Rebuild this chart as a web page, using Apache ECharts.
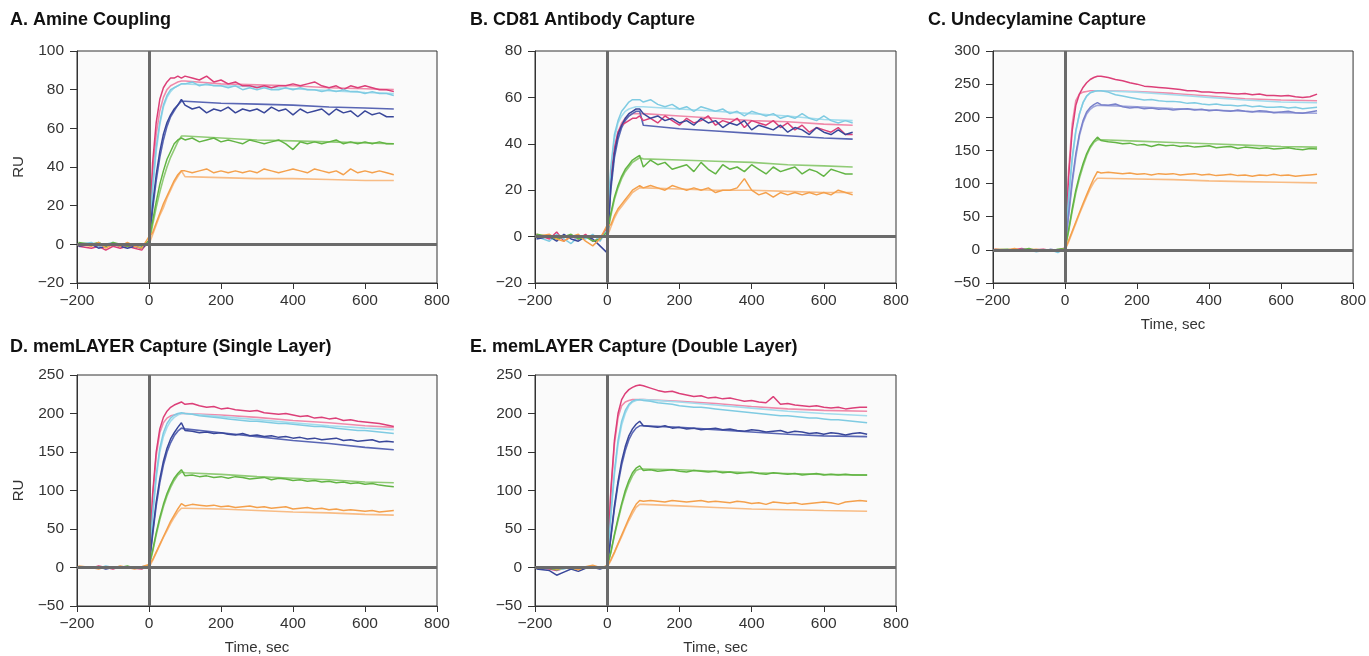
<!DOCTYPE html>
<html><head><meta charset="utf-8">
<script src="https://cdn.jsdelivr.net/npm/echarts@6/dist/echarts.min.js"></script>
<style>html,body{margin:0;padding:0;background:#fff}#c{width:1369px;height:656px}</style>
</head><body><div id="c"></div>
<script>
// ---- time grids (sec) ----
const tA = [-196,-160,-140,-120,-100,-80,-60,-40,-20,0,10,20,30,40,50,60,70,80,90,100,120,140,160,180,200,220,240,260,280,300,320,340,360,380,400,420,440,460,480,500,520,540,560,580,600,620,640,660,680];
const tC = tA.concat([700]);
const tE = tA.concat([700,720]);
const fitA = [0,10,20,30,40,50,60,70,80,90,100,200,300,400,500,600,680];
const fitC = [0,10,20,30,40,50,60,70,80,90,100,200,300,400,500,600,700];
const fitE = [0,10,20,30,40,50,60,70,80,90,100,200,300,400,500,600,720];

// ---- A. Amine Coupling ----
const A_pink = [-1,-2,-1,-3,-1,-2,-1,-2,-3,2, 42,63,75,81,84,86,86,87,86, 87,86,85,87,84,85,83,84,82,82,81,82,81,82,82,83,82,83,84,82,81,82,80,82,81,82,81,80,80,79];
const A_cyan = [0,1,-1,0,1,-1,0,-1,-2,2, 30,50,63,72,77,80,81,82,83, 83,84,82,83,82,82,81,82,80,81,80,81,80,80,81,80,81,80,80,79,80,79,80,79,79,78,79,78,78,77];
const A_blue = [-1,0,-2,-1,0,-1,-2,-1,-2,1, 20,36,48,57,63,67,70,72,75, 72,70,71,68,70,69,71,68,70,69,70,68,71,69,70,67,70,68,69,70,67,70,68,69,66,69,67,68,66,66];
const A_green = [1,0,1,-1,1,0,-1,0,-1,2, 12,22,31,38,44,48,52,54,55, 54,55,53,54,55,53,54,53,52,54,53,52,53,54,52,49,53,52,53,52,53,54,52,53,52,53,52,53,52,52];
const A_orange = [0,-1,1,-2,0,-1,1,-1,-2,4, 6,11,16,21,25,29,33,36,38, 38,37,38,39,37,38,37,38,37,38,37,39,38,37,38,39,38,37,39,38,37,38,36,39,37,38,37,38,37,36];
const A_pink_fit = [0,36,57,69,76,80,82,83,84,84.5,84.5,83,82.5,82,81,80.5,80];
const A_cyan_fit = [0,28,48,62,71,76,79,81,82,83,83,82,81.5,80.5,79.5,78.5,78];
const A_blue_fit = [0,18,33,45,54,61,66,69,72,74,74,73,72.5,72,71,70.5,70];
const A_green_fit = [0,10,19,27,34,40,45,49,53,56,56,55,54,53.5,53,52.5,52];
const A_orange_fit = [0,5,10,15,19,24,28,32,35,38,35,34.5,34,34,33.5,33,33];

// ---- B. CD81 Antibody Capture ----
const B_pink = [1,-1,2,-2,0,-1,1,-2,-1,4, 25,38,45,48,49,50,51,51,52, 50,51,49,52,50,48,51,49,50,52,48,50,49,51,47,50,49,48,50,47,49,46,48,45,47,46,45,47,44,44];
const B_cyan = [0,-2,1,-1,-3,0,-1,1,-2,3, 30,44,50,54,56,58,59,59,59, 58,59,57,56,57,55,56,54,56,55,54,55,53,54,52,54,53,52,53,51,52,51,53,51,50,52,50,49,50,49];
const B_blue = [-1,0,-2,1,-1,-2,0,-1,-4,-7, 22,36,44,48,51,53,54,55,55, 53,51,52,50,51,49,50,48,51,49,50,47,49,48,50,46,48,47,46,48,45,47,46,44,47,45,44,46,44,45];
const B_green = [1,0,-1,0,1,-1,0,-2,-1,2, 10,17,22,26,29,31,33,34,35, 30,33,31,32,29,30,31,28,32,29,27,31,29,30,28,31,29,27,30,28,29,30,27,29,28,26,29,28,27,27];
const B_orange = [0,1,-1,-2,0,1,-2,-4,-1,5, 5,9,12,14,16,18,20,21,22, 21,22,21,20,22,21,20,21,20,21,19,20,20,21,25,20,18,19,17,19,18,19,18,19,18,19,18,20,19,18];
const B_pink_fit = [0,25,38,45,49,51,52,53,53,53,53,52,51,50,49.5,48.5,48];
const B_cyan_fit = [0,28,42,49,52,54,55,55.5,56,56,56,55,54,53,52,50.5,50];
const B_blue_fit = [0,20,34,42,47,50,52,53,54,54,48,46.5,45.5,44.5,43.5,42.5,42];
const B_green_fit = [0,9,16,21,25,28,30,32,33,34,33.5,33,32.5,32,31,30.5,30];
const B_orange_fit = [0,4,8,11,13,15,17,19,20,21,21,20.5,20,20,19.5,19,19];

// ---- C. Undecylamine Capture ----
const C_pink = [1,-1,0,2,-1,0,1,-1,0,3, 110,180,218,235,245,252,257,260,262, 262,260,257,255,252,250,247,246,245,244,243,242,240,240,238,238,237,237,236,235,236,234,235,233,233,232,233,231,230,231,235];
const C_cyan = [0,-2,1,-1,0,-3,-1,0,-4,2, 80,140,180,205,222,232,237,239,240, 240,238,234,232,230,228,226,227,225,224,224,223,221,222,220,219,220,218,218,217,218,216,217,215,215,216,214,215,213,214,215];
const C_blue = [-1,0,-2,1,0,-1,-2,1,-1,1, 55,105,145,175,195,208,215,219,222, 219,218,220,216,214,215,213,214,212,213,211,212,213,211,212,210,211,210,209,211,209,208,210,209,207,208,209,207,206,208,210];
const C_green = [0,1,-1,0,2,-1,0,-2,1,2, 30,62,90,112,130,145,156,164,170, 165,163,162,160,161,158,159,156,159,157,158,156,157,155,156,157,154,155,156,153,155,154,153,154,152,153,154,152,151,153,152];
const C_orange = [1,0,2,-1,0,1,-1,0,-1,1, 14,28,42,56,70,83,96,108,118, 116,117,116,115,116,114,115,113,115,114,115,113,114,115,113,114,112,113,114,112,113,111,113,112,114,112,113,111,112,113,114];
const C_pink_fit = [0,120,190,225,235,238,239,240,240,240,240,239,236,232,228,226,225];
const C_cyan_fit = [0,75,135,178,205,222,232,237,239,240,240,238,234,230,226,223,222];
const C_blue_fit = [0,50,100,140,172,192,205,212,216,218,218,216,213,211,209,207,206];
const C_green_fit = [0,28,58,86,108,126,142,154,162,166,166,164,162,160,158,156,155];
const C_orange_fit = [0,12,26,40,54,67,80,92,102,108,108,107,106,104,103,102,101];

// ---- D. memLAYER Capture (Single Layer) ----
const D_pink = [1,-1,2,0,-2,1,0,-1,-2,3, 95,150,180,195,203,208,211,213,215, 212,213,210,208,209,206,207,205,204,203,204,201,200,199,200,198,196,197,194,195,193,194,191,192,190,189,188,187,185,183];
const D_cyan = [0,1,-1,2,0,-1,1,0,-1,2, 70,120,155,175,187,194,198,200,201, 200,199,197,196,195,194,193,192,191,190,190,189,188,187,187,186,185,184,183,183,182,181,180,179,178,178,177,176,175,174];
const D_blue = [-1,0,1,-2,0,1,-1,0,1,2, 45,85,115,138,155,167,175,182,188, 178,177,175,176,174,175,173,172,174,171,172,170,171,169,170,168,169,167,168,166,167,168,165,166,164,165,166,163,164,163];
const D_green = [0,-1,0,1,-1,0,2,-1,0,3, 22,45,65,82,96,107,116,122,127, 119,120,118,119,117,118,116,118,117,115,116,117,114,116,115,113,114,112,113,111,112,110,111,109,110,108,109,107,106,105];
const D_orange = [2,0,-2,1,-1,2,0,-2,1,4, 10,20,30,40,50,60,68,76,83, 80,82,81,80,81,79,80,78,79,80,78,79,77,78,79,76,77,78,76,77,75,76,74,75,74,73,74,72,73,74];
const D_pink_fit = [0,90,145,175,188,194,197,198,199,200,200,198,195,191,188,184,182];
const D_cyan_fit = [0,65,115,150,170,182,190,195,198,200,200,196,192,188,184,181,179];
const D_blue_fit = [0,42,80,110,133,150,162,171,177,181,180,175,170,165,161,156,153];
const D_green_fit = [0,20,42,62,79,93,104,113,120,124,123,121,118,116,114,111,110];
const D_orange_fit = [0,9,19,29,39,48,57,65,72,77,77,76,74,72,71,69,68];

// ---- E. memLAYER Capture (Double Layer) ----
const E_pink = [0,-2,-4,-1,0,-2,1,0,-1,2, 100,165,200,218,226,231,234,236,237, 236,233,230,228,229,226,224,222,223,220,221,219,220,218,216,217,215,214,222,212,213,211,210,209,210,208,207,208,206,207,208,208];
const E_cyan = [-1,0,-3,-2,1,-1,0,1,0,1, 70,125,165,190,204,212,216,218,218, 217,216,214,213,212,210,209,208,208,207,206,205,204,203,202,201,200,199,198,197,197,196,195,194,194,193,192,192,191,190,189,188];
const E_blue = [-2,-4,-10,-6,-2,-5,-1,0,-2,1, 40,80,112,138,157,171,180,186,190, 184,183,182,184,181,182,180,181,179,180,181,179,180,178,177,179,178,176,177,178,175,177,176,174,175,173,175,174,172,174,175,173];
const E_green = [0,-1,-3,0,-1,-2,0,2,-1,2, 20,43,64,83,100,113,123,129,132, 126,127,125,126,127,125,124,126,125,124,125,123,124,122,123,124,122,121,123,122,121,122,120,121,122,120,121,120,121,120,120,120];
const E_orange = [1,0,-2,-1,0,-3,1,3,0,2, 10,20,31,42,53,64,74,82,87, 86,87,86,85,87,86,85,86,87,85,86,85,84,86,85,83,84,82,85,84,83,84,82,83,84,85,84,82,85,86,87,86];
const E_pink_fit = [0,95,160,195,210,215,217,218,218,218,218,216,213,209,206,204,203];
const E_cyan_fit = [0,65,120,160,185,200,210,215,217,218,218,215,211,207,203,200,197];
const E_blue_fit = [0,38,76,108,133,152,166,175,181,184,184,182,179,176,173,171,170];
const E_green_fit = [0,19,41,61,80,96,109,119,126,128,128,127,125,123,122,121,120];
const E_orange_fit = [0,9,19,30,40,51,61,70,78,82,82,80,78,76,75,74,73];

// ---- panel titles / axis ranges ----
const titles = ['A. Amine Coupling','B. CD81 Antibody Capture','C. Undecylamine Capture','D. memLAYER Capture (Single Layer)','E. memLAYER Capture (Double Layer)'];
const yMin = [-20,-20,-50,-50,-50];
const yMax = [100,80,300,250,250];
const yStep = [20,20,50,50,50];

// ---- build ----
const FONT = '"Liberation Sans", Arial, Helvetica, sans-serif';
const names = ['pink','cyan','blue','green','orange'];
const colorsStd = {pink:['#dc3f78','#f08aaa'],cyan:['#7fcbe2','#a3dced'],blue:['#39479a','#5966b4'],green:['#62b444','#90cb76'],orange:['#f4a04c','#f8bc85']};
const colorsC = Object.assign({}, colorsStd, {blue:['#7a82cb','#9fa5dc']});

const panels = [
  {data:[A_pink,A_cyan,A_blue,A_green,A_orange], fit:[A_pink_fit,A_cyan_fit,A_blue_fit,A_green_fit,A_orange_fit], t:tA, ft:fitA, grid:{left:77,top:51,width:360,height:232}, tpos:[10,11], ru:true, time:false, col:colorsStd},
  {data:[B_pink,B_cyan,B_blue,B_green,B_orange], fit:[B_pink_fit,B_cyan_fit,B_blue_fit,B_green_fit,B_orange_fit], t:tA, ft:fitA, grid:{left:535,top:51,width:361,height:232}, tpos:[470,11], ru:false, time:false, col:colorsStd},
  {data:[C_pink,C_cyan,C_blue,C_green,C_orange], fit:[C_pink_fit,C_cyan_fit,C_blue_fit,C_green_fit,C_orange_fit], t:tC, ft:fitC, grid:{left:993,top:51,width:362,height:232}, tpos:[928,11], ru:false, time:true, col:colorsC},
  {data:[D_pink,D_cyan,D_blue,D_green,D_orange], fit:[D_pink_fit,D_cyan_fit,D_blue_fit,D_green_fit,D_orange_fit], t:tA, ft:fitA, grid:{left:77,top:375,width:360,height:232}, tpos:[10,338], ru:true, time:true, col:colorsStd},
  {data:[E_pink,E_cyan,E_blue,E_green,E_orange], fit:[E_pink_fit,E_cyan_fit,E_blue_fit,E_green_fit,E_orange_fit], t:tE, ft:fitE, grid:{left:535,top:375,width:361,height:232}, tpos:[470,338], ru:false, time:true, col:colorsStd}
];

const minus = v => String(v).replace('-', '\u2212');
const pair = (t, v) => { const n = Math.min(t.length, v.length); const o = []; for (let i = 0; i < n; i++) o.push([t[i], v[i]]); return o; };

const option = {animation:false, backgroundColor:'#ffffff', title:[], grid:[], xAxis:[], yAxis:[], series:[]};
panels.forEach((p, i) => {
  option.title.push({text:titles[i], left:p.tpos[0], top:p.tpos[1], padding:0, textStyle:{fontSize:18, fontWeight:'bold', color:'#111', fontFamily:FONT}});
  option.grid.push(Object.assign({show:true, backgroundColor:'#fafafa', borderColor:'#333', borderWidth:1}, p.grid));
  option.xAxis.push({type:'value', gridIndex:i, min:-200, max:800, interval:200,
    name: p.time ? 'Time, sec' : '', nameLocation:'middle', nameGap:34, nameTextStyle:{fontSize:15, color:'#333', fontFamily:FONT},
    axisLine:{onZero:false, lineStyle:{color:'#333', width:1}}, axisTick:{length:6, lineStyle:{color:'#333'}},
    axisLabel:{fontSize:15.5, color:'#333', margin:10, fontFamily:FONT, formatter:minus}, splitLine:{show:false}});
  option.yAxis.push({type:'value', gridIndex:i, min:yMin[i], max:yMax[i], interval:yStep[i],
    name: p.ru ? 'RU' : '', nameLocation:'middle', nameGap:51, nameRotate:90, nameTextStyle:{fontSize:15, color:'#333', fontFamily:FONT},
    axisLine:{onZero:false, lineStyle:{color:'#333', width:1}}, axisTick:{length:7, lineStyle:{color:'#333'}},
    axisLabel:{fontSize:15.5, color:'#333', margin:13, fontFamily:FONT, formatter:minus}, splitLine:{show:false}});
  // zero reference lines
  option.series.push({type:'line', xAxisIndex:i, yAxisIndex:i, data:[], silent:true, z:1,
    markLine:{silent:true, symbol:'none', label:{show:false}, animation:false,
      lineStyle:{color:'#6a6a6a', width:3, type:'solid'}, data:[{xAxis:0},{yAxis:0}]}});
  // fits then data
  names.forEach((nm, k) => {
    option.series.push({type:'line', xAxisIndex:i, yAxisIndex:i, data:pair(p.ft, p.fit[k]), showSymbol:false, symbol:'none', z:2,
      lineStyle:{color:p.col[nm][1], width:1.6}, silent:true});
  });
  names.forEach((nm, k) => {
    option.series.push({type:'line', xAxisIndex:i, yAxisIndex:i, data:pair(p.t, p.data[k]), showSymbol:false, symbol:'none', z:3,
      lineStyle:{color:p.col[nm][0], width:1.5}, silent:true});
  });
});

const chart = echarts.init(document.getElementById('c'), null, {renderer:'canvas'});
chart.setOption(option);
</script>
</body></html>
